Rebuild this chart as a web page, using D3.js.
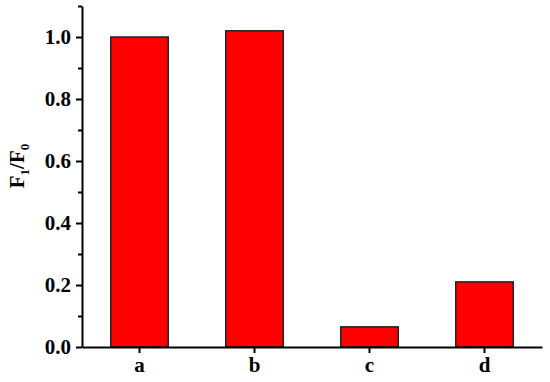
<!DOCTYPE html>
<html><head><meta charset="utf-8">
<script src="https://cdn.jsdelivr.net/npm/d3@7"></script>
<style>body{margin:0;background:#fff}svg{display:block}text{font-family:"Liberation Serif","Times New Roman",serif;font-weight:bold}</style>
</head><body>
<svg id="c" width="550" height="382"></svg>
<script>
const categories = ["a", "b", "c", "d"];
const values = [1.0, 1.02, 0.065, 0.21];
const yTicks = [0, 0.2, 0.4, 0.6, 0.8, 1.0];
const yMinorTicks = [0.1, 0.3, 0.5, 0.7, 0.9, 1.1];

const svg = d3.select("#c");
const x = d3.scaleBand().domain(categories).range([82, 542]).paddingInner(0.5).paddingOuter(0.25);
const y = d3.scaleLinear().domain([0, 1.1]).range([347, 6]);

svg.selectAll("rect.bar").data(values).enter().append("rect")
  .attr("class", "bar")
  .attr("x", (d, i) => x(categories[i]))
  .attr("y", d => y(d))
  .attr("width", x.bandwidth())
  .attr("height", d => y(0) - y(d))
  .attr("fill", "#ff0000")
  .attr("stroke", "#222")
  .attr("stroke-width", 1.5);

const gMinor = svg.append("g").attr("transform", "translate(82,0)")
  .call(d3.axisLeft(y).tickValues(yMinorTicks).tickSize(4).tickFormat(""));
gMinor.select(".domain").remove();
gMinor.selectAll("line").attr("stroke", "#000").attr("stroke-width", 2);

const gy = svg.append("g").attr("transform", "translate(82,0)")
  .call(d3.axisLeft(y).tickValues(yTicks).tickSize(6).tickSizeOuter(0).tickPadding(5).tickFormat(d3.format(".1f")));
gy.attr("font-family", null).attr("font-size", null);
gy.select(".domain").attr("stroke", "#000").attr("stroke-width", 2);
gy.selectAll("line").attr("stroke", "#000").attr("stroke-width", 2);
gy.selectAll("text").style("font-size", "21px").attr("fill", "#000");

const gx = svg.append("g").attr("transform", "translate(0,347)")
  .call(d3.axisBottom(x).tickSize(6).tickSizeOuter(0).tickPadding(4));
gx.attr("font-family", null).attr("font-size", null);
gx.select(".domain").attr("stroke", "#000").attr("stroke-width", 2);
gx.selectAll("line").attr("stroke", "#000").attr("stroke-width", 2);
gx.selectAll("text").style("font-size", "21px").attr("fill", "#000");

const lab = svg.append("text")
  .attr("transform", "translate(24,166) rotate(-90)")
  .attr("text-anchor", "middle")
  .style("font-size", "21px").attr("fill", "#000");
lab.append("tspan").text("F");
lab.append("tspan").style("font-size", "13px").attr("dy", 5).text("1");
lab.append("tspan").attr("dy", -5).text("/F");
lab.append("tspan").style("font-size", "13px").attr("dy", 5).text("0");
</script>
</body></html>
